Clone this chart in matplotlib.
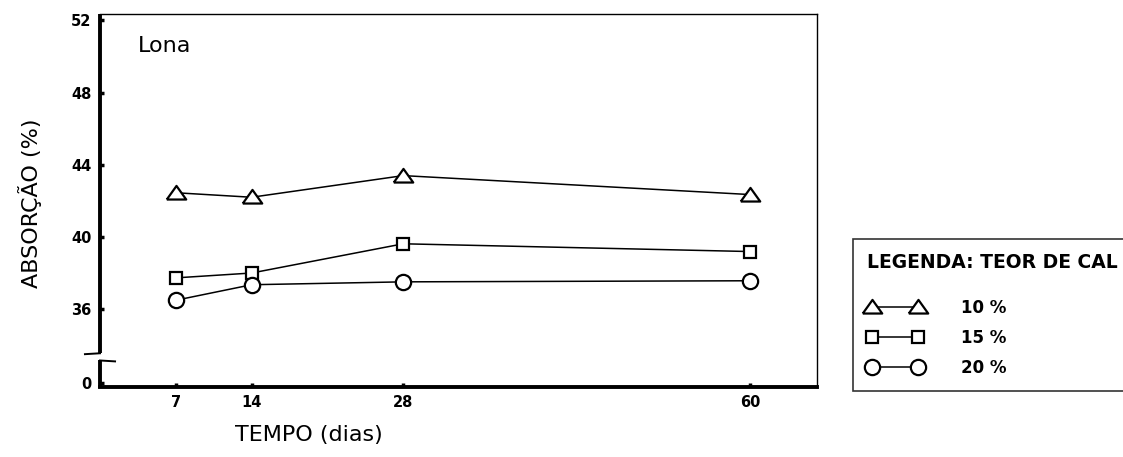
import matplotlib
matplotlib.use("Agg")
import matplotlib.pyplot as plt
import matplotlib.transforms as mtransforms

# Water absorption of "Lona" specimens vs. curing time, by lime content
days = [7, 14, 28, 60]
series_labels = ["10 %", "15 %", "20 %"]
absorption_10 = [42.45, 42.2, 43.4, 42.35]
absorption_15 = [37.73, 38.0, 39.62, 39.19]
absorption_20 = [36.49, 37.35, 37.51, 37.57]

x_ticks = [7, 14, 28, 60]
y_tick_values = [36, 40, 44, 48, 52]
y_tick_labels = ["36", "40", "44", "48", "52"]

plt.rcParams["font.family"] = ["DejaVu Sans"]

fig = plt.figure(figsize=(11.23, 4.57), dpi=100)
ax = fig.add_axes([100 / 1123, 1 - 387 / 457, 717 / 1123, 373 / 457])

y_low, y_high = 31.68, 52.36
ax.set_xlim(0, 66.2)
ax.set_ylim(y_low, y_high)

# broken axis: the "0" tick sits just above the bottom, below the break
zero_pos = y_low + 0.22
ax.set_yticks([zero_pos] + y_tick_values, ["0"] + y_tick_labels)
ax.set_xticks(x_ticks, [str(t) for t in x_ticks])
ax.tick_params(axis="both", direction="in", length=3, width=2.5,
               labelsize=10.5, pad=6)
for lab in ax.get_xticklabels() + ax.get_yticklabels():
    lab.set_fontweight("bold")

# triangle marker wider than tall
tri = [(-1.0, -0.62), (1.0, -0.62), (0.0, 0.78), (-1.0, -0.62)]
style = dict(color="black", lw=1.1, mfc="white", mec="black", mew=1.6)
h10, = ax.plot(days, absorption_10, marker=tri, ms=14, label=series_labels[0], **style)
h15, = ax.plot(days, absorption_15, marker="s", ms=9, label=series_labels[1], **style)
h20, = ax.plot(days, absorption_20, marker="o", ms=11, label=series_labels[2], **style)
for h in (h10, h15, h20):
    h.set_clip_on(False)

# frame: heavy left/bottom, light top/right
ax.spines["left"].set_visible(False)
ax.spines["bottom"].set_linewidth(2.8)
ax.spines["top"].set_linewidth(1.0)
ax.spines["right"].set_linewidth(1.0)

trans = mtransforms.blended_transform_factory(ax.transAxes, ax.transData)
break_hi, break_lo = 33.55, 33.15
ax.plot([0, 0], [break_hi, y_high], transform=trans, color="black",
        lw=2.8, clip_on=False, solid_capstyle="butt")
ax.plot([0, 0], [y_low - 0.05, break_lo], transform=trans, color="black",
        lw=2.8, clip_on=False, solid_capstyle="butt")
ax.plot([-0.021, 0.0], [break_hi - 0.05, break_hi], transform=trans,
        color="black", lw=1.4, clip_on=False)
ax.plot([0.0, 0.021], [break_lo, break_lo - 0.05], transform=trans,
        color="black", lw=1.4, clip_on=False)

ax.text(0.053, 0.915, "Lona", transform=ax.transAxes, fontsize=16,
        ha="left", va="center")

ax.set_ylabel("ABSORÇÃO (%)", fontsize=16)
ax.yaxis.set_label_coords(-58 / 717, 1 - (203 - 14) / 373)
ax.set_xlabel("TEMPO (dias)", fontsize=16)
ax.xaxis.set_label_coords((309 - 100) / 717, -(425 - 387) / 373)

leg = fig.legend(handles=[h10, h15, h20], labels=series_labels,
                 title="LEGENDA: TEOR DE CAL", loc="upper left",
                 bbox_to_anchor=(853 / 1123, 1 - 239 / 457),
                 numpoints=2, handlelength=3.35, handletextpad=2.3,
                 fontsize=12, title_fontproperties={"weight": "bold", "size": 13.5},
                 alignment="left", fancybox=False, frameon=True,
                 borderpad=0.85, labelspacing=0.72, borderaxespad=0)
leg._legend_box.sep = 19
leg.get_frame().set_edgecolor("black")
leg.get_frame().set_linewidth(1.2)
for t in leg.get_texts():
    t.set_fontweight("bold")

fig.savefig("out.png", dpi=100, facecolor="white")
